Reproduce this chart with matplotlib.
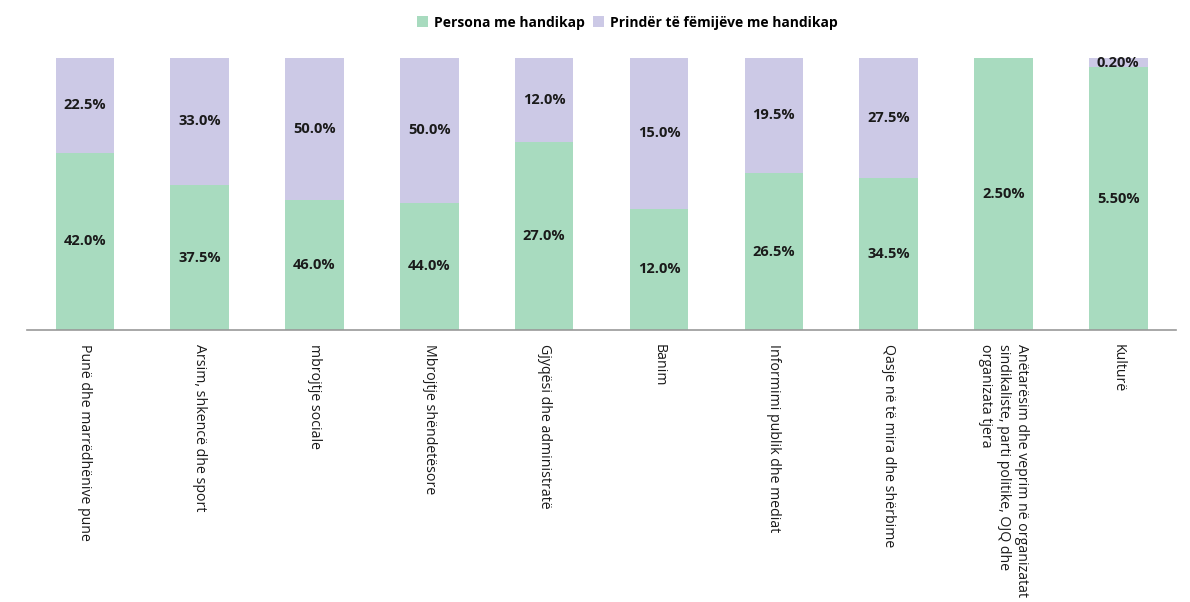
import numpy as np
import matplotlib.pyplot as plt

categories = [
    "Punë dhe marrëdhënive pune",
    "Arsim, shkencë dhe sport",
    "mbrojtje sociale",
    "Mbrojtje shëndetësore",
    "Gjyqësi dhe administratë",
    "Banim",
    "Informimi publik dhe mediat",
    "Qasje në të mira dhe shërbime",
    "Anëtarësim dhe veprim në organizatat\nsindikaliste, parti politike, OJQ dhe\norganizata tjera",
    "Kulturë",
]
persona = [42.0, 37.5, 46.0, 44.0, 27.0, 12.0, 26.5, 34.5, 2.50, 5.50]
prinder = [22.5, 33.0, 50.0, 50.0, 12.0, 15.0, 19.5, 27.5, 0.0, 0.20]
decimals = [1, 1, 1, 1, 1, 1, 1, 1, 2, 2]

green = "#a8dbbf"
purple = "#ccc9e6"

plt.rcParams['font.family'] = ['Open Sans', 'DejaVu Sans']

fig = plt.figure(figsize=(11.9, 6.02), dpi=100)
ax = fig.add_axes([0.023, 0.452, 0.965, 0.452])

persona = np.array(persona)
prinder = np.array(prinder)
total = persona + prinder
p_share = persona / total * 100
q_share = prinder / total * 100
x = np.arange(len(categories))

ax.bar(x, p_share, width=0.51, color=green, label="Persona me handikap")
ax.bar(x, q_share, width=0.51, bottom=p_share, color=purple,
       label="Prindër të fëmijëve me handikap")

for i in x:
    d = decimals[i]
    ax.text(i, p_share[i] / 2, f"{persona[i]:.{d}f}%", ha="center", va="center",
            fontsize=10.5, fontweight="bold", color="#1a1a1a")
    if prinder[i] > 0:
        ax.text(i, p_share[i] + q_share[i] / 2, f"{prinder[i]:.{d}f}%", ha="center",
                va="center", fontsize=10.5, fontweight="bold", color="#1a1a1a")

ax.set_xlim(-0.5, len(categories) - 0.5)
ax.set_ylim(0, 100)
ax.set_xticks(x)
ax.set_xticklabels(categories, rotation=-90, ha="center", va="top",
                   fontsize=10.2, color="#1a1a1a", linespacing=1.3,
                   multialignment="left")
ax.tick_params(axis="x", length=0, pad=10)
ax.set_yticks([])
for s in ["top", "right", "left"]:
    ax.spines[s].set_visible(False)
ax.spines["bottom"].set_color("#999999")
ax.spines["bottom"].set_linewidth(1.2)

fig.legend(loc="upper center", bbox_to_anchor=(0.527, 0.995), ncol=2, frameon=False,
           prop={"weight": "bold", "size": 10}, handlelength=0.8,
           handleheight=0.8, handletextpad=0.4, columnspacing=0.6)

fig.savefig("out.png", dpi=100)
